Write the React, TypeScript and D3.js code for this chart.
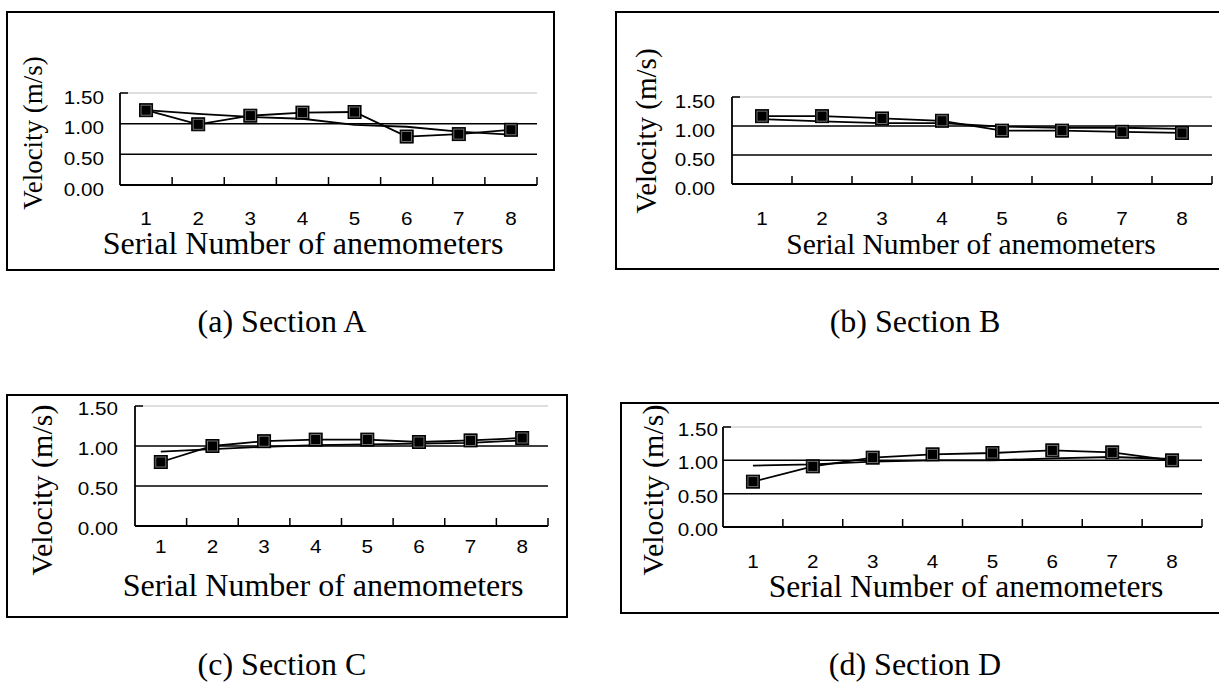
import React from 'react';
import * as d3 from 'd3';

// anemometer numbers and the y ticks shared by the four sections
const categories = [1, 2, 3, 4, 5, 6, 7, 8];
const yTicks = [0, 0.5, 1.0, 1.5];

// measured velocity (square markers) and the plain comparison line, per section
const measuredA = [1.22, 0.99, 1.13, 1.18, 1.19, 0.79, 0.83, 0.9];
const lineA = [1.22, 1.16, 1.11, 1.08, 0.98, 0.95, 0.87, 0.82];
const measuredB = [1.17, 1.17, 1.13, 1.09, 0.92, 0.92, 0.9, 0.88];
const lineB = [1.12, 1.08, 1.05, 1.05, 0.99, 0.97, 0.97, 0.95];
const measuredC = [0.8, 1.0, 1.06, 1.08, 1.08, 1.05, 1.07, 1.1];
const lineC = [0.93, 0.96, 0.99, 1.01, 1.02, 1.03, 1.04, 1.07];
const measuredD = [0.68, 0.91, 1.04, 1.09, 1.11, 1.15, 1.12, 1.0];
const lineD = [0.92, 0.94, 0.98, 1.0, 1.0, 1.03, 1.05, 1.02];

const captions = ['(a) Section A', '(b) Section B', '(c) Section C', '(d) Section D'];

const SANS = '"Liberation Sans", Arial, sans-serif';
const SERIF = '"Liberation Serif", "Times New Roman", serif';

// layout of each pasted chart
const layouts = [
  { box: [7, 12, 547, 258], x0: 120, x1: 537, yb: 185, yt: 93, labX: 104, labDy: 10.5, tickY: 225,
    xt: [303, 254, 32], yt2: [42, 133, 27], cap: [282, 332] },
  { box: [616, 12, 640, 257], x0: 732, x1: 1212, yb: 184, yt: 97, labX: 715, labDy: 11, tickY: 225,
    xt: [971, 254, 29.5], yt2: [656, 131, 29], cap: [915, 332] },
  { box: [7, 395, 560, 222], x0: 135, x1: 548, yb: 526, yt: 406, labX: 118, labDy: 9, tickY: 553,
    xt: [323, 596, 32], yt2: [52, 490, 30], cap: [282, 675] },
  { box: [621, 403, 640, 210], x0: 723, x1: 1202, yb: 527, yt: 427, labX: 718, labDy: 9, tickY: 568,
    xt: [966, 597, 31.5], yt2: [663, 490, 30], cap: [915, 675] },
];

const Panel = ({ lay, measured, plain, caption }) => {
  const x = d3.scaleBand<number>().domain(categories).range([lay.x0, lay.x1]);
  const y = d3.scaleLinear().domain([0, 1.5]).range([lay.yb, lay.yt]);
  const cx = (c: number) => (x(c) as number) + x.bandwidth() / 2;
  const line = d3.line<number>().x((_, i) => cx(categories[i])).y(v => y(v));
  const [bx, by, bw, bh] = lay.box;
  const edges = categories.map(c => (x(c) as number) + x.bandwidth());

  return (
    <g>
      <rect x={bx} y={by} width={bw} height={bh} fill="#fff" stroke="#000" strokeWidth={2} />
      {/* gridlines */}
      {yTicks.filter(t => t > 0).map(t => (
        <line key={t} x1={lay.x0} x2={lay.x1} y1={y(t)} y2={y(t)}
          stroke={t === 1.5 ? '#bdbdbd' : '#000'} strokeWidth={t === 1.5 ? 1 : 1.5} />
      ))}
      {/* axes */}
      <line x1={lay.x0} x2={lay.x0} y1={y(0)} y2={y(1.5)} stroke="#000" strokeWidth={1.8} />
      <line x1={lay.x0} x2={lay.x0 + 8} y1={y(1.5)} y2={y(1.5)} stroke="#000" strokeWidth={1.5} />
      <line x1={lay.x0} x2={lay.x1} y1={y(0)} y2={y(0)} stroke="#000" strokeWidth={1.8} />
      {edges.map((e, i) => (
        <line key={i} x1={e} x2={e} y1={y(0)} y2={y(0) - 8} stroke="#000" strokeWidth={1.5} />
      ))}
      {/* y tick labels */}
      {yTicks.map(t => (
        <text key={t} transform={`translate(${lay.labX},${y(t) + lay.labDy}) scale(1.18,1)`}
          textAnchor="end" fontFamily={SANS} fontSize={17.5}>{t.toFixed(2)}</text>
      ))}
      {/* x tick labels */}
      {categories.map(c => (
        <text key={c} transform={`translate(${cx(c)},${lay.tickY}) scale(1.18,1)`}
          textAnchor="middle" fontFamily={SANS} fontSize={17.5}>{c}</text>
      ))}
      {/* series */}
      <path d={line(plain) as string} fill="none" stroke="#000" strokeWidth={1.8} />
      <path d={line(measured) as string} fill="none" stroke="#000" strokeWidth={1.8} />
      {measured.map((v, i) => (
        <g key={i}>
          <rect x={cx(categories[i]) - 6.5} y={y(v) - 6.5} width={13} height={13} fill="#000" stroke="#000" strokeWidth={1} />
          <rect x={cx(categories[i]) - 5} y={y(v) - 5} width={10} height={10} fill="none" stroke="#8a8a8a" strokeWidth={0.8} />
        </g>
      ))}
      {/* titles */}
      <text x={lay.xt[0]} y={lay.xt[1]} textAnchor="middle" fontFamily={SERIF} fontSize={lay.xt[2]}>
        Serial Number of anemometers
      </text>
      <text transform={`translate(${lay.yt2[0]},${lay.yt2[1]}) rotate(-90)`} textAnchor="middle"
        fontFamily={SERIF} fontSize={lay.yt2[2]}>Velocity (m/s)</text>
      <text x={lay.cap[0]} y={lay.cap[1]} textAnchor="middle" fontFamily={SERIF} fontSize={32}>{caption}</text>
    </g>
  );
};

export default function App() {
  const series = [
    [measuredA, lineA],
    [measuredB, lineB],
    [measuredC, lineC],
    [measuredD, lineD],
  ];
  return (
    <svg width={1219} height={682} style={{ position: 'absolute', left: 0, top: 0, background: '#fff' }}>
      <rect width={1219} height={682} fill="#fff" />
      {layouts.map((lay, i) => (
        <Panel key={i} lay={lay} measured={series[i][0]} plain={series[i][1]} caption={captions[i]} />
      ))}
    </svg>
  );
}
